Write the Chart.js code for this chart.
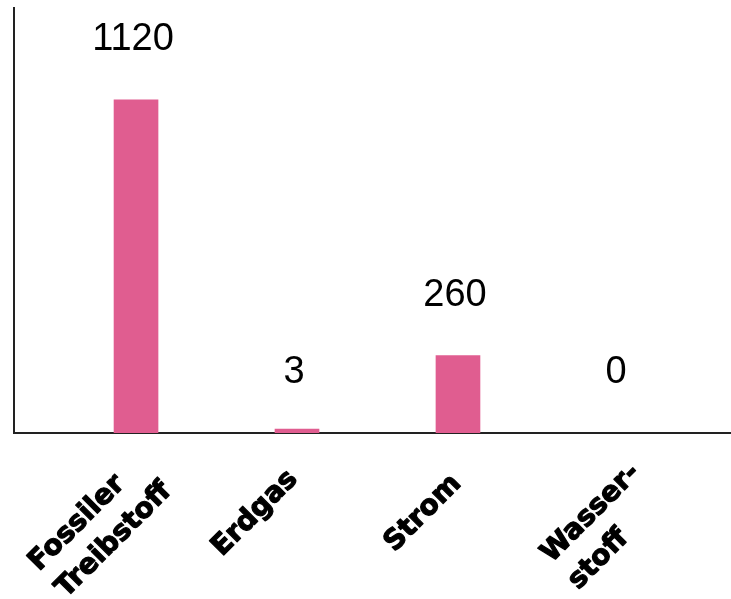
<!DOCTYPE html>
<html>
<head>
<meta charset="utf-8">
<script src="https://cdn.jsdelivr.net/npm/chart.js@4/dist/chart.umd.min.js"></script>
<style>
  html, body { margin: 0; padding: 0; background: #fff; }
  #wrap { width: 731px; height: 599px; }
</style>
</head>
<body>
<div id="wrap"><canvas id="myChart"></canvas></div>
<script>
// Kategorien und Werte
var categories = [['Fossiler', 'Treibstoff'], 'Erdgas', 'Strom', ['Wasser-', 'stoff']];
var values = [1120, 3, 260, 0];

var barColor = '#e05d90';

// Balken mit Wert 0 werden nicht gezeichnet, nur beschriftet
var barData = values.map(function (v, i) {
    return { x: i, y: v === 0 ? null : v };
});

// Wertebeschriftung über den Balken
var valueLabels = {
    id: 'valueLabels',
    afterDatasetsDraw: function (chart) {
        var ctx = chart.ctx;
        var xs = chart.scales.x, ys = chart.scales.y;
        ctx.save();
        ctx.fillStyle = '#000';
        ctx.font = '38px "Liberation Sans", Arial, sans-serif';
        ctx.textAlign = 'center';
        ctx.textBaseline = 'middle';
        values.forEach(function (v, i) {
            ctx.fillText(String(v), xs.getPixelForValue(i) - 3, ys.getPixelForValue(v) - 60);
        });
        ctx.restore();
    }
};

// Schräge, linksbündige Kategorienbeschriftung (mehrzeilig)
var categoryLabels = {
    id: 'categoryLabels',
    afterDraw: function (chart) {
        var ctx = chart.ctx;
        var xs = chart.scales.x;
        var n = categories.length;
        ctx.save();
        ctx.fillStyle = '#000';
        ctx.strokeStyle = '#000';
        ctx.lineWidth = 1.2;
        ctx.lineJoin = 'round';
        ctx.font = 'bold 28px "DejaVu Sans", sans-serif';
        ctx.textAlign = 'left';
        ctx.textBaseline = 'alphabetic';
        categories.forEach(function (lab, i) {
            var lines = [].concat(lab);
            var w = Math.max.apply(null, lines.map(function (l) { return ctx.measureText(l).width; }));
            // Beschriftungen etwas weiter gespreizt als die Balken
            var x = xs.getPixelForValue(i) + 7 * (i - (n - 1) / 2);
            ctx.save();
            ctx.translate(x, xs.top);
            ctx.rotate(-Math.PI / 4);
            lines.forEach(function (l, k) {
                ctx.fillText(l, -84 - w / 2, 37 + k * 38);
                ctx.strokeText(l, -84 - w / 2, 37 + k * 38);
            });
            ctx.restore();
        });
        ctx.restore();
    }
};

new Chart(document.getElementById('myChart'), {
    type: 'bar',
    data: {
        datasets: [{
            data: barData,
            backgroundColor: barColor,
            barThickness: 44,
            minBarLength: 4
        }]
    },
    options: {
        responsive: true,
        maintainAspectRatio: false,
        animation: false,
        layout: { padding: { left: 14, top: 8, right: 0, bottom: 0 } },
        plugins: { legend: { display: false }, tooltip: { enabled: false } },
        scales: {
            x: {
                type: 'linear',
                min: -0.758,
                max: 3.696,
                offset: false,
                grid: { display: false },
                border: { display: true, color: '#222', width: 2 },
                afterFit: function (scale) { scale.height = 166; },
                ticks: { display: false, stepSize: 1, includeBounds: false }
            },
            y: {
                min: 0,
                max: 1429,
                grid: { display: false },
                ticks: { display: false },
                afterFit: function (scale) { scale.width = 0; },
                border: { display: true, color: '#222', width: 2 }
            }
        }
    },
    plugins: [valueLabels, categoryLabels]
});
</script>
</body>
</html>
